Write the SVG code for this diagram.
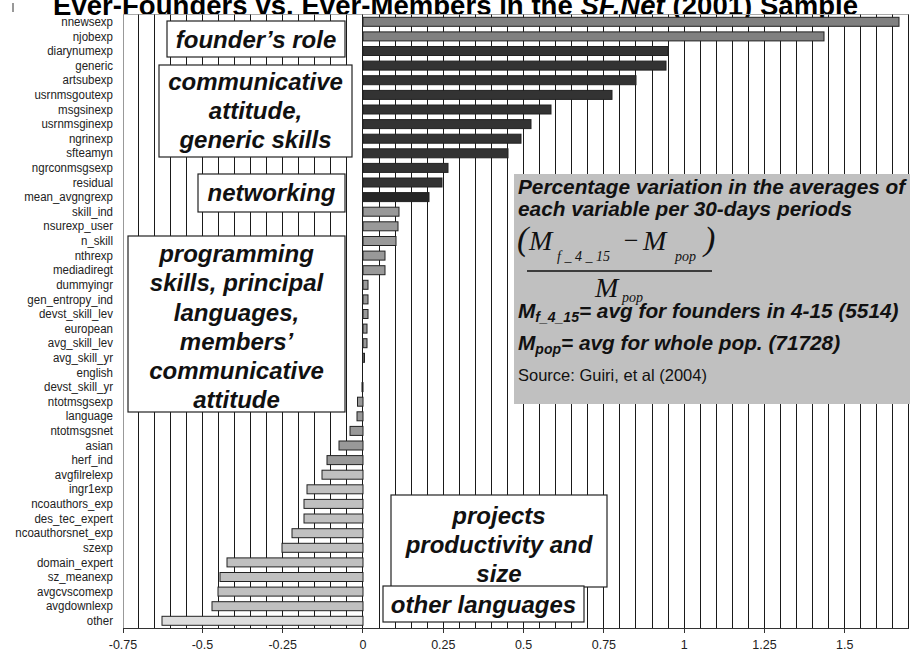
<svg xmlns="http://www.w3.org/2000/svg" width="910" height="662" viewBox="0 0 910 662">
<style>
text{font-family:"Liberation Sans",Arial,sans-serif}
.lbl{font-size:12.5px;fill:#222;text-anchor:end}
.ax{font-size:12.5px;fill:#222;text-anchor:middle}
.grid{stroke:#1a1a1a;stroke-width:1;fill:none}
.bar{stroke:#222;stroke-width:1}
.b1{fill:#808080}.b2{fill:#333}.b3{fill:#999}.b4{fill:#c0c0c0}.b5{fill:#ddd}
.bx rect{fill:#fff;stroke:#222;stroke-width:1.2}
.bx text{font-size:24px;font-weight:bold;font-style:italic;fill:#111;text-anchor:middle}
.nt{font-size:20.8px;font-weight:bold;font-style:italic;fill:#111}
.fm{font-family:"Liberation Serif","Times New Roman",serif;font-style:italic;fill:#111}
</style>
<rect width="910" height="662" fill="#fff"/>
<line x1="13" y1="3" x2="13" y2="12" stroke="#333" stroke-width="1"/>
<text id="title" x="53" y="15" font-size="27.5" font-weight="bold" fill="#000" textLength="805" lengthAdjust="spacing">Ever-Founders vs. Ever-Members in the <tspan font-style="italic">SF.Net</tspan> (2001) Sample</text>

<g id="gridlines">
<line x1="123" y1="14.5" x2="909" y2="14.5" stroke="#aaa"/>
<path class="grid" d="M138.5 14.5V628M154.5 14.5V628M170.5 14.5V628M186.5 14.5V628M202.5 14.5V628M218.5 14.5V628M234.5 14.5V628M250.5 14.5V628M266.5 14.5V628M282.5 14.5V628M298.5 14.5V628M314.5 14.5V628M330.5 14.5V628M346.5 14.5V628M362.5 14.5V628M379.5 14.5V628M395.5 14.5V628M411.5 14.5V628M427.5 14.5V628M443.5 14.5V628M459.5 14.5V628M475.5 14.5V628M491.5 14.5V628M507.5 14.5V628M523.5 14.5V628M539.5 14.5V628M555.5 14.5V628M571.5 14.5V628M587.5 14.5V628M603.5 14.5V628M619.5 14.5V628M635.5 14.5V628M652.5 14.5V628M668.5 14.5V628M684.5 14.5V628M700.5 14.5V628M716.5 14.5V628M732.5 14.5V628M748.5 14.5V628M764.5 14.5V628M780.5 14.5V628M796.5 14.5V628M812.5 14.5V628M828.5 14.5V628M844.5 14.5V628M860.5 14.5V628M876.5 14.5V628M892.5 14.5V628M908.5 14.5V628"/>
</g>

<g id="bars" class="bar">
<rect class="b1" x="363" y="17.3" width="536" height="9"/>
<rect class="b1" x="363" y="31.9" width="461" height="9"/>
<rect class="b2" x="363" y="46.5" width="305" height="9"/>
<rect class="b2" x="363" y="61.1" width="303" height="9"/>
<rect class="b2" x="363" y="75.7" width="273" height="9"/>
<rect class="b2" x="363" y="90.4" width="249" height="9"/>
<rect class="b2" x="363" y="105" width="188" height="9"/>
<rect class="b2" x="363" y="119.6" width="168" height="9"/>
<rect class="b2" x="363" y="134.2" width="158" height="9"/>
<rect class="b2" x="363" y="148.8" width="145" height="9"/>
<rect class="b2" x="363" y="163.4" width="85" height="9"/>
<rect class="b2" x="363" y="178" width="79" height="9"/>
<rect class="b2" x="363" y="192.6" width="66" height="9" style="fill:#262626"/>
<rect class="b3" x="363" y="207.2" width="36" height="9"/>
<rect class="b3" x="363" y="221.8" width="35" height="9"/>
<rect class="b3" x="363" y="236.5" width="33" height="9"/>
<rect class="b3" x="363" y="251.1" width="22" height="9"/>
<rect class="b3" x="363" y="265.7" width="22" height="9"/>
<rect class="b3" x="363" y="280.3" width="5" height="9"/>
<rect class="b3" x="363" y="294.9" width="5" height="9"/>
<rect class="b3" x="363" y="309.5" width="5" height="9"/>
<rect class="b3" x="363" y="324.1" width="4" height="9"/>
<rect class="b3" x="363" y="338.7" width="4" height="9"/>
<rect class="b3" x="363" y="353.3" width="1.5" height="9"/>
<rect class="b3" x="362" y="382.6" width="1" height="9"/>
<rect class="b3" x="357.5" y="397.2" width="5.5" height="9"/>
<rect class="b3" x="357" y="411.8" width="6" height="9"/>
<rect class="b3" x="350" y="426.4" width="13" height="9"/>
<rect class="b3" x="339" y="441" width="24" height="9"/>
<rect class="b3" x="327" y="455.6" width="36" height="9"/>
<rect class="b4" x="322" y="470.2" width="41" height="9"/>
<rect class="b4" x="307" y="484.8" width="56" height="9"/>
<rect class="b4" x="304" y="499.4" width="59" height="9"/>
<rect class="b4" x="304" y="514" width="59" height="9"/>
<rect class="b4" x="292" y="528.7" width="71" height="9"/>
<rect class="b4" x="282" y="543.3" width="81" height="9"/>
<rect class="b4" x="227" y="557.9" width="136" height="9"/>
<rect class="b4" x="220" y="572.5" width="143" height="9"/>
<rect class="b4" x="218" y="587.1" width="145" height="9"/>
<rect class="b4" x="212" y="601.7" width="151" height="9"/>
<rect class="b5" x="162" y="616.3" width="201" height="9"/>
</g>

<g id="axes">
<line x1="123.5" y1="14.5" x2="123.5" y2="629" stroke="#999"/>
<line x1="123" y1="628.5" x2="909" y2="628.5" stroke="#333"/>
<path d="M123.5 628V633M202.5 628V633M282.5 628V633M362.5 628V633M443.5 628V633M523.5 628V633M603.5 628V633M684.5 628V633M764.5 628V633M844.5 628V633" stroke="#333"/>
<text class="ax" x="123" y="649">-0.75</text>
<text class="ax" x="202.4" y="649">-0.5</text>
<text class="ax" x="282.7" y="649">-0.25</text>
<text class="ax" x="363" y="649">0</text>
<text class="ax" x="443.3" y="649">0.25</text>
<text class="ax" x="523.6" y="649">0.5</text>
<text class="ax" x="603.9" y="649">0.75</text>
<text class="ax" x="684.2" y="649">1</text>
<text class="ax" x="764.5" y="649">1.25</text>
<text class="ax" x="844.8" y="649">1.5</text>
</g>

<g id="labels" transform="translate(113 0) scale(0.92 1) translate(-113 0)">
<text class="lbl" x="113" y="26">nnewsexp</text>
<text class="lbl" x="113" y="40.6">njobexp</text>
<text class="lbl" x="113" y="55.2">diarynumexp</text>
<text class="lbl" x="113" y="69.8">generic</text>
<text class="lbl" x="113" y="84.4">artsubexp</text>
<text class="lbl" x="113" y="99.1">usrnmsgoutexp</text>
<text class="lbl" x="113" y="113.7">msgsinexp</text>
<text class="lbl" x="113" y="128.3">usrnmsginexp</text>
<text class="lbl" x="113" y="142.9">ngrinexp</text>
<text class="lbl" x="113" y="157.5">sfteamyn</text>
<text class="lbl" x="113" y="172.1">ngrconmsgsexp</text>
<text class="lbl" x="113" y="186.7">residual</text>
<text class="lbl" x="113" y="201.3">mean_avgngrexp</text>
<text class="lbl" x="113" y="215.9">skill_ind</text>
<text class="lbl" x="113" y="230.5">nsurexp_user</text>
<text class="lbl" x="113" y="245.2">n_skill</text>
<text class="lbl" x="113" y="259.8">nthrexp</text>
<text class="lbl" x="113" y="274.4">mediadiregt</text>
<text class="lbl" x="113" y="289">dummyingr</text>
<text class="lbl" x="113" y="303.6">gen_entropy_ind</text>
<text class="lbl" x="113" y="318.2">devst_skill_lev</text>
<text class="lbl" x="113" y="332.8">european</text>
<text class="lbl" x="113" y="347.4">avg_skill_lev</text>
<text class="lbl" x="113" y="362">avg_skill_yr</text>
<text class="lbl" x="113" y="376.6">english</text>
<text class="lbl" x="113" y="391.3">devst_skill_yr</text>
<text class="lbl" x="113" y="405.9">ntotmsgsexp</text>
<text class="lbl" x="113" y="420.5">language</text>
<text class="lbl" x="113" y="435.1">ntotmsgsnet</text>
<text class="lbl" x="113" y="449.7">asian</text>
<text class="lbl" x="113" y="464.3">herf_ind</text>
<text class="lbl" x="113" y="478.9">avgfilrelexp</text>
<text class="lbl" x="113" y="493.5">ingr1exp</text>
<text class="lbl" x="113" y="508.1">ncoauthors_exp</text>
<text class="lbl" x="113" y="522.7">des_tec_expert</text>
<text class="lbl" x="113" y="537.4">ncoauthorsnet_exp</text>
<text class="lbl" x="113" y="552">szexp</text>
<text class="lbl" x="113" y="566.6">domain_expert</text>
<text class="lbl" x="113" y="581.2">sz_meanexp</text>
<text class="lbl" x="113" y="595.8">avgcvscomexp</text>
<text class="lbl" x="113" y="610.4">avgdownlexp</text>
<text class="lbl" x="113" y="625">other</text>
</g>

<g id="box-founder" class="bx">
<rect x="167" y="21" width="178" height="36"/>
<text x="256" y="48">founder’s role</text>
</g>
<g id="box-communicative" class="bx">
<rect x="159" y="65" width="193" height="92"/>
<text x="255.5" y="90">communicative</text>
<text x="255.5" y="119">attitude,</text>
<text x="255.5" y="148">generic skills</text>
</g>
<g id="box-networking" class="bx">
<rect x="198" y="174" width="147" height="38"/>
<text x="271.5" y="201">networking</text>
</g>
<g id="box-programming" class="bx">
<rect x="128" y="236" width="217" height="176"/>
<text x="236.5" y="262">programming</text>
<text x="236.5" y="291">skills, principal</text>
<text x="236.5" y="321">languages,</text>
<text x="236.5" y="350">members’</text>
<text x="236.5" y="379">communicative</text>
<text x="236.5" y="408">attitude</text>
</g>
<g id="box-projects" class="bx">
<rect x="391" y="495" width="216" height="92"/>
<text x="499" y="524">projects</text>
<text x="499" y="553">productivity and</text>
<text x="499" y="582">size</text>
</g>
<g id="box-other" class="bx">
<rect x="383" y="586" width="201" height="36"/>
<text x="483.5" y="613">other languages</text>
</g>

<g id="note">
<rect x="514" y="174" width="396" height="230" fill="#c0c0c0"/>
<text class="nt" x="518" y="194">Percentage variation in the averages of</text>
<text class="nt" x="518" y="216">each variable per 30-days periods</text>
<text class="fm" x="517" y="250" font-size="34" font-style="normal">(</text>
<text class="fm" x="529" y="250" font-size="28">M</text>
<text class="fm" x="557" y="261" font-size="14">f _ 4 _ 15</text>
<text class="fm" x="622" y="249" font-size="26" font-style="normal">−</text>
<text class="fm" x="643" y="250" font-size="28">M</text>
<text class="fm" x="675" y="261" font-size="14">pop</text>
<text class="fm" x="704" y="250" font-size="34" font-style="normal">)</text>
<line x1="527" y1="271" x2="712" y2="271" stroke="#111" stroke-width="1.4"/>
<text class="fm" x="595" y="297" font-size="28">M</text>
<text class="fm" x="622" y="302" font-size="14">pop</text>
<text class="nt" x="518" y="318" font-size="21">M<tspan font-size="14" dy="4">f_4_15</tspan><tspan dy="-4">= avg for founders in 4-15 (5514)</tspan></text>
<text class="nt" x="518" y="350" font-size="21">M<tspan font-size="14" dy="4">pop</tspan><tspan dy="-4">= avg for whole pop. (71728)</tspan></text>
<text x="518" y="381" font-size="16.5" fill="#111">Source: Guiri, et al (2004)</text>
</g>
</svg>
